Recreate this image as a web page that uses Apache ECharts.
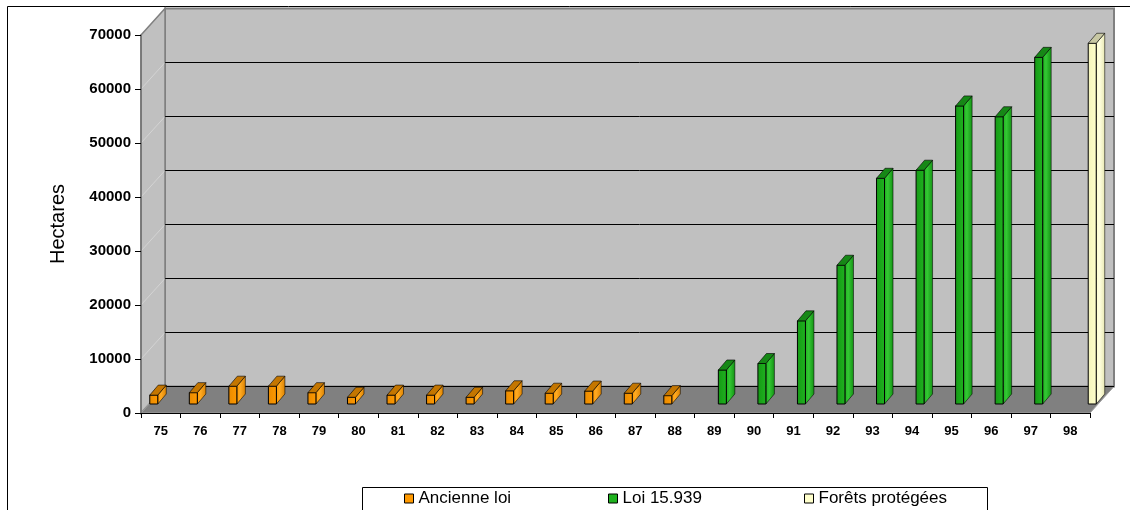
<!DOCTYPE html>
<html>
<head>
<meta charset="utf-8">
<script src="https://cdn.jsdelivr.net/npm/echarts@6/dist/echarts.min.js"></script>
<style>
  html, body { margin: 0; padding: 0; background: #fff; }
  #chart { width: 1130px; height: 510px; }
</style>
</head>
<body>
<div id="chart"></div>
<script>
// categories (years 1975 - 1998)
const years = ['75', '76', '77', '78', '79', '80', '81', '82', '83', '84', '85', '86',
  '87', '88', '89', '90', '91', '92', '93', '94', '95', '96', '97', '98'];
// Ancienne loi : 75 -> 88
const ancienneLoi = [1650, 2100, 3300, 3300, 2100, 1250, 1650, 1650, 1250, 2450, 2000, 2400, 2000, 1550];
// Loi 15.939 : 89 -> 97
const loi15939 = [6300, 7500, 15400, 25700, 41800, 43300, 55200, 53200, 64200];
// Forêts protégées : 98
const foretsProtegees = [66800];
const yMax = 70000;
const yStep = 10000;

const font = "'Liberation Sans', Arial, sans-serif";
// 3d look: depth of the box, and where the bars stand inside it
const WALL = [24, -26.5];
const BAR_SHIFT = -9;

function toData(arr, firstYear) {
  const start = years.indexOf(firstYear);
  return arr.map((v, i) => [start + i, v]);
}

function renderWalls(params, api) {
  const cs = params.coordSys;
  const x0 = cs.x, x1 = cs.x + cs.width, yT = cs.y, yB = cs.y + cs.height;
  const dx = WALL[0], dy = WALL[1];
  const kids = [];
  // back wall
  kids.push({ type: 'rect', shape: { x: x0 + dx, y: yT + dy, width: cs.width, height: cs.height },
    style: { fill: '#c0c0c0', stroke: '#808080', lineWidth: 2 } });
  // left side wall
  kids.push({ type: 'polygon', shape: { points: [[x0, yT], [x0 + dx, yT + dy], [x0 + dx, yB + dy], [x0, yB]] },
    style: { fill: '#c0c0c0', stroke: '#808080', lineWidth: 1.5 } });
  // grid lines on the back wall
  for (let v = yStep; v < yMax; v += yStep) {
    const y = api.coord([0, v])[1];
    kids.push({ type: 'line', shape: { x1: x0 + dx, y1: y + dy, x2: x1 + dx, y2: y + dy },
      style: { stroke: '#000', lineWidth: 1 } });
    kids.push({ type: 'line', shape: { x1: x0, y1: y, x2: x0 + dx, y2: y + dy },
      style: { stroke: 'rgba(255,255,255,0.3)', lineWidth: 1 } });
  }
  // floor
  kids.push({ type: 'polygon', shape: { points: [[x0, yB], [x1, yB], [x1 + dx, yB + dy], [x0 + dx, yB + dy]] },
    style: { fill: '#808080', stroke: '#a0a0a0', lineWidth: 1 } });
  kids.push({ type: 'line', shape: { x1: x0 + dx, y1: yB + dy, x2: x1 + dx, y2: yB + dy },
    style: { stroke: '#000', lineWidth: 1 } });
  return { type: 'group', children: kids };
}

function barRenderer(off, c) {
  return function (params, api) {
    const base = api.coord([api.value(0), 0]);
    const top = api.coord([api.value(0), api.value(1)]);
    const x = base[0] + off, yb = base[1] + BAR_SHIFT, yt = top[1] + BAR_SHIFT;
    const w = 8, bx = 8.5, by = -10;
    const grad = (a, b) => new echarts.graphic.LinearGradient(0, 0, 1, 0, [
      { offset: 0, color: a }, { offset: 1, color: b }]);
    return {
      type: 'group',
      children: [
        { type: 'polygon', shape: { points: [[x + w, yt], [x + w + bx, yt + by], [x + w + bx, yb + by], [x + w, yb]] },
          style: { fill: new echarts.graphic.LinearGradient(0, 0, 1, 0, [
            { offset: 0, color: c.front }, { offset: 0.4, color: c.light }, { offset: 1, color: c.side }]),
            stroke: 'rgba(0,0,0,0.55)', lineWidth: 1 } },
        { type: 'rect', shape: { x: x, y: yt, width: w, height: yb - yt },
          style: { fill: grad(c.dark, c.front), stroke: '#000', lineWidth: 1 } },
        { type: 'polygon', shape: { points: [[x, yt], [x + w, yt], [x + w + bx, yt + by], [x + bx, yt + by]] },
          style: { fill: c.cap, stroke: 'rgba(0,0,0,0.6)', lineWidth: 1 } }
      ]
    };
  };
}

const orange = { front: '#ff9900', dark: '#e88a00', light: '#ffaa22', side: '#d98000', cap: '#c47600' };
const green = { front: '#1fb21f', dark: '#159915', light: '#33c833', side: '#139013', cap: '#168816' };
const cream = { front: '#ffffcc', dark: '#f4f4bb', light: '#ffffe0', side: '#e6e6b0', cap: '#c8c8a4' };

const legendBase = {
  orient: 'horizontal', icon: 'rect', itemWidth: 9, itemHeight: 9, padding: 0, top: 490,
  itemStyle: { borderColor: '#000', borderWidth: 1 },
  textStyle: { fontFamily: font, fontSize: 17, color: '#000' },
  selectedMode: false
};

const chart = echarts.init(document.getElementById('chart'));
chart.setOption({
  animation: false,
  backgroundColor: '#fff',
  grid: { left: 141, right: 40, top: 35, bottom: 97, containLabel: false, outerBoundsMode: 'none' },
  xAxis: {
    type: 'category', data: years, boundaryGap: true, z: 5,
    axisLine: { lineStyle: { color: '#000', width: 1 } },
    axisTick: { show: true, interval: 0, length: 5, lineStyle: { color: '#000' } },
    axisLabel: { interval: 0, margin: 12, color: '#000', fontFamily: font, fontWeight: 'bold', fontSize: 13 },
    splitLine: { show: false }
  },
  yAxis: {
    type: 'value', min: 0, max: yMax, interval: yStep, z: 5,
    name: 'Hectares', nameLocation: 'middle', nameGap: 73,
    nameTextStyle: { fontFamily: font, fontSize: 20, color: '#000' },
    axisLine: { show: true, lineStyle: { color: '#707070', width: 1.5 } },
    axisTick: { show: true, length: 6, lineStyle: { color: '#000' } },
    axisLabel: { margin: 10, color: '#000', fontFamily: font, fontWeight: 'bold', fontSize: 15,
      formatter: (v) => String(v) },
    splitLine: { show: false }
  },
  legend: [
    Object.assign({}, legendBase, { data: ['Ancienne loi'], left: 404 }),
    Object.assign({}, legendBase, { data: ['Loi 15.939'], left: 608 }),
    Object.assign({}, legendBase, { data: ['Forêts protégées'], left: 804 })
  ],
  graphic: [
    { type: 'rect', z: -1, shape: { x: 7.5, y: 6.5, width: 1300, height: 700 },
      style: { fill: 'none', stroke: '#000', lineWidth: 1 } },
    { type: 'rect', z: -1, shape: { x: 362.5, y: 487.5, width: 625, height: 40 },
      style: { fill: '#fff', stroke: '#000', lineWidth: 1 } }
  ],
  series: [
    { name: 'walls', type: 'custom', z: 1, clip: false, silent: true,
      renderItem: renderWalls, data: [[0, 0]] },
    { name: 'Ancienne loi', type: 'custom', z: 3, clip: false, itemStyle: { color: '#ff9900' },
      renderItem: barRenderer(-11, orange), data: toData(ancienneLoi, '75') },
    { name: 'Loi 15.939', type: 'custom', z: 3, clip: false, itemStyle: { color: '#1fb21f' },
      renderItem: barRenderer(4, green), data: toData(loi15939, '89') },
    { name: 'Forêts protégées', type: 'custom', z: 3, clip: false, itemStyle: { color: '#ffffcc' },
      renderItem: barRenderer(18, cream), data: toData(foretsProtegees, '98') }
  ]
});
</script>
</body>
</html>
